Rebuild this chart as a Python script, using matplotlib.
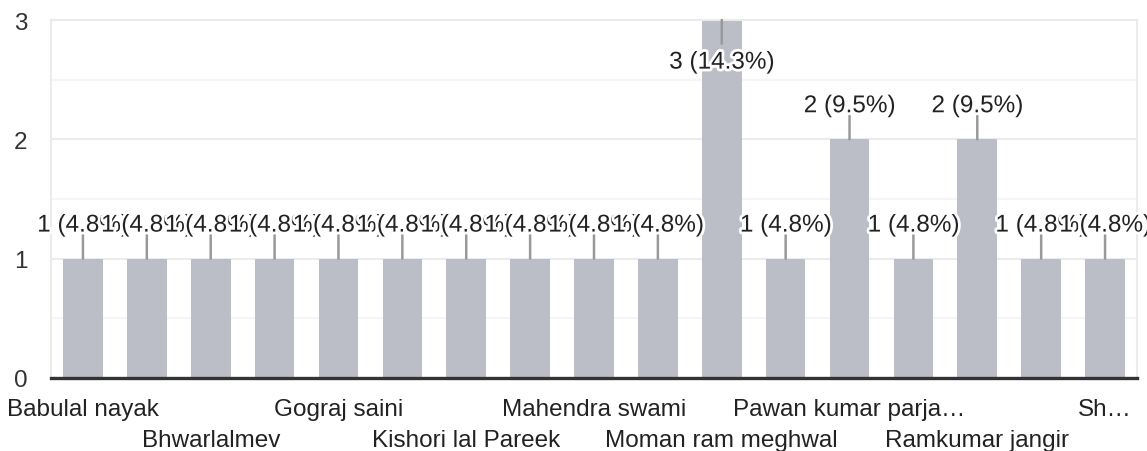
import matplotlib
matplotlib.use("Agg")
import matplotlib.pyplot as plt
import matplotlib.patheffects as pe
import numpy as np

plt.rcParams['font.family'] = ['Liberation Sans', 'DejaVu Sans']

names = ["Babulal nayak", "", "Bhwarlalmev", "", "Gograj saini", "",
         "Kishori lal Pareek", "", "Mahendra swami", "", "Moman ram meghwal", "",
         "Pawan kumar parja\u2026", "", "Ramkumar jangir", "", "Sh\u2026"]
counts = [1, 1, 1, 1, 1, 1, 1, 1, 1, 1, 3, 1, 2, 1, 2, 1, 1]
percents = [4.8, 4.8, 4.8, 4.8, 4.8, 4.8, 4.8, 4.8, 4.8, 4.8, 14.3, 4.8, 9.5, 4.8, 9.5, 4.8, 4.8]
yticks = [0, 1, 2, 3]

FS = 17.5
fig = plt.figure(figsize=(11.47, 4.52), dpi=100)
ax = fig.add_axes([51/1147, 1-379/452, (1137-51)/1147, (379-21)/452])

x = np.arange(len(counts))
ax.bar(x, counts, width=0.62, color='#bbbec7', zorder=2)

ax.set_xlim(-0.5, len(counts)-0.5)
ax.set_ylim(0, 3)
ax.set_yticks(yticks)
ax.set_yticks([0.5, 1.5, 2.5], minor=True)
ax.grid(axis='y', which='major', color='#ebebeb', linewidth=1.5, zorder=0)
ax.grid(axis='y', which='minor', color='#f5f5f5', linewidth=1.5, zorder=0)
ax.tick_params(axis='y', which='both', length=0, pad=17, labelsize=FS, labelcolor='#333333')
ax.tick_params(axis='x', length=0, labelsize=FS, labelcolor='#222222')
ax.set_xticks(x)
ax.set_xticklabels(names)
for i, t in enumerate(ax.xaxis.get_major_ticks()):
    t.set_pad(14.5 if (i // 2) % 2 == 0 else 36.5)

for s in ['left', 'right', 'top']:
    ax.spines[s].set_color('#ebebeb')
    ax.spines[s].set_linewidth(1.5)
ax.spines['bottom'].set_color('#333333')
ax.spines['bottom'].set_linewidth(2.4)
ax.spines['bottom'].set_zorder(5)

ymax = 3
halo = [pe.withStroke(linewidth=4, foreground='white')]
for i, (c, p) in enumerate(zip(counts, percents)):
    lbl = f"{c} ({p}%)"
    if c >= ymax:
        ax.annotate('', xy=(i, c), xytext=(0, -17), textcoords='offset points',
                    arrowprops=dict(arrowstyle='-', color='#999999', lw=1.8,
                                    shrinkA=0, shrinkB=0), zorder=3)
        ax.annotate(lbl, xy=(i, c), xytext=(0, -35), textcoords='offset points',
                    ha='center', va='baseline', fontsize=FS, color='#222222',
                    path_effects=halo, zorder=4, annotation_clip=False)
    else:
        ax.annotate('', xy=(i, c), xytext=(0, 17), textcoords='offset points',
                    arrowprops=dict(arrowstyle='-', color='#999999', lw=1.8,
                                    shrinkA=0, shrinkB=0), zorder=3)
        ax.annotate(lbl, xy=(i, c), xytext=(0, 19.5), textcoords='offset points',
                    ha='center', va='baseline', fontsize=FS, color='#222222',
                    path_effects=halo, zorder=4, annotation_clip=False)

fig.savefig('out.png', dpi=100, facecolor='white')
